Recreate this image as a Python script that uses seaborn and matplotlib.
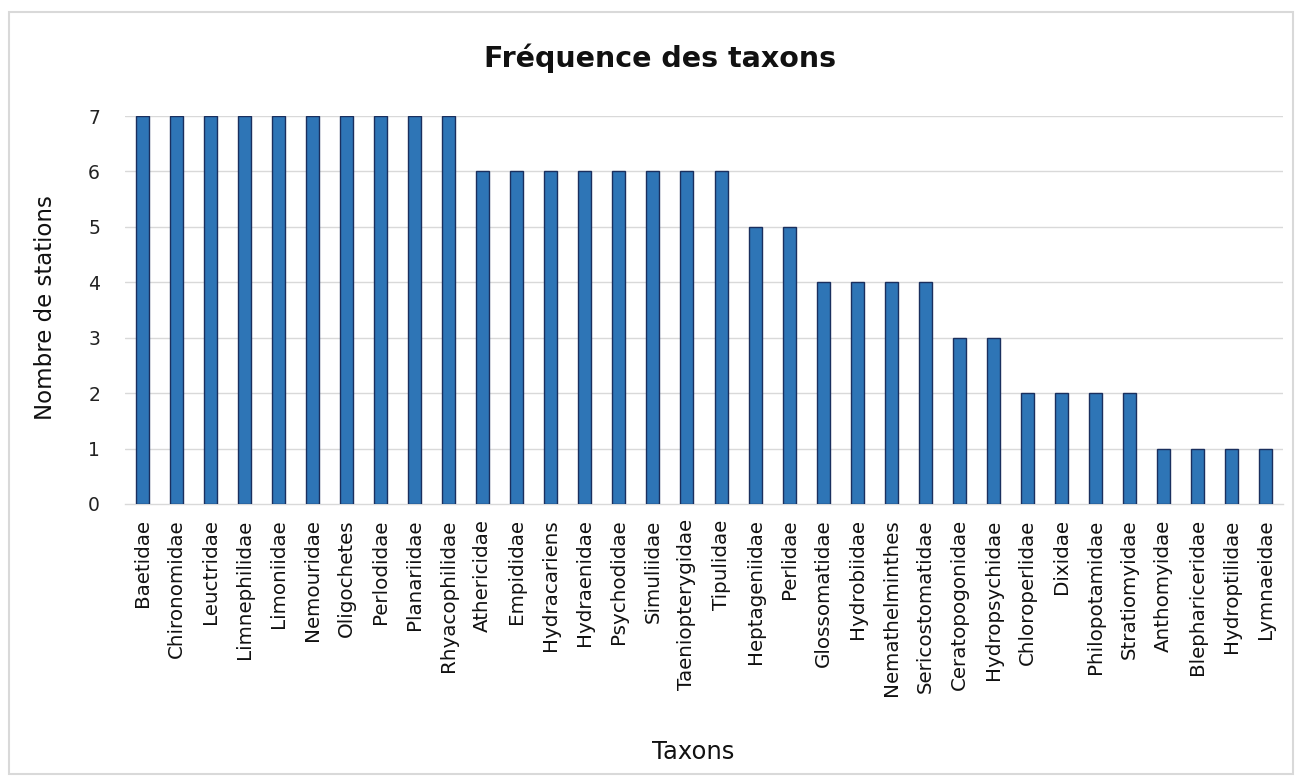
import matplotlib
matplotlib.use("Agg")
import matplotlib.pyplot as plt
import seaborn as sns
import pandas as pd

taxons = [
    "Baetidae", "Chironomidae", "Leuctridae", "Limnephilidae", "Limoniidae",
    "Nemouridae", "Oligochetes", "Perlodidae", "Planariidae", "Rhyacophilidae",
    "Athericidae", "Empididae", "Hydracariens", "Hydraenidae", "Psychodidae",
    "Simuliidae", "Taeniopterygidae", "Tipulidae", "Heptageniidae", "Perlidae",
    "Glossomatidae", "Hydrobiidae", "Nemathelminthes", "Sericostomatidae",
    "Ceratopogonidae", "Hydropsychidae", "Chloroperlidae", "Dixidae",
    "Philopotamidae", "Stratiomyidae", "Anthomyidae", "Blephariceridae",
    "Hydroptilidae", "Lymnaeidae",
]
stations = [
    7, 7, 7, 7, 7, 7, 7, 7, 7, 7,
    6, 6, 6, 6, 6, 6, 6, 6,
    5, 5,
    4, 4, 4, 4,
    3, 3,
    2, 2, 2, 2,
    1, 1, 1, 1,
]
y_ticks = [0, 1, 2, 3, 4, 5, 6, 7]

df = pd.DataFrame({"Taxons": taxons, "Stations": stations})

sns.set_theme(style="white")
plt.rcParams["font.family"] = ["DejaVu Sans"]

W, H = 1300, 778
fig = plt.figure(figsize=(13, 7.78), dpi=100)
x0, x1, y_top, y_bot = 125, 1283, 116, 504
ax = fig.add_axes([x0 / W, 1 - y_bot / H, (x1 - x0) / W, (y_bot - y_top) / H])

sns.barplot(data=df, x="Taxons", y="Stations", color="#2e75b6", saturation=1,
            width=0.38, edgecolor="#1a2f5e", linewidth=1.0, ax=ax, zorder=3)

ax.set_ylim(0, 7)
ax.set_xlim(-0.5, len(taxons) - 0.5)
ax.set_yticks(y_ticks)
ax.set_yticklabels([str(v) for v in y_ticks], fontsize=13.5, color="#222222")
ax.tick_params(axis="y", length=0, pad=18)
ax.tick_params(axis="x", length=0, pad=11)
ax.set_xticks(range(len(taxons)))
ax.set_xticklabels(taxons, rotation=90, fontsize=14.3, color="#111111")

for v in y_ticks[1:]:
    ax.axhline(v, color="#d9d9d9", linewidth=1.0, zorder=1)
for side in ["top", "right", "left"]:
    ax.spines[side].set_visible(False)
ax.spines["bottom"].set_color("#d9d9d9")
ax.spines["bottom"].set_linewidth(1.0)

ax.set_xlabel("Taxons", fontsize=17.5, color="#111111")
ax.xaxis.label.set_va("center")
ax.xaxis.set_label_coords((693 - x0) / (x1 - x0), (y_bot - 752) / (y_bot - y_top))
ax.set_ylabel("Nombre de stations", fontsize=16.5, color="#111111")
ax.yaxis.label.set_va("center")
ax.yaxis.set_label_coords((46 - x0) / (x1 - x0), (y_bot - 308) / (y_bot - y_top))

fig.text(660 / W, 1 - 58 / H, "Fréquence des taxons", ha="center", va="center",
         fontsize=20.5, fontweight="bold", color="#111111")

# light frame around the whole chart
frame = plt.Rectangle((9 / W, 1 - 774 / H), 1284 / W, 762 / H,
                      transform=fig.transFigure, fill=False,
                      edgecolor="#d9d9d9", linewidth=1.5)
fig.patches.append(frame)

fig.savefig("out.png", dpi=100, facecolor="white")
